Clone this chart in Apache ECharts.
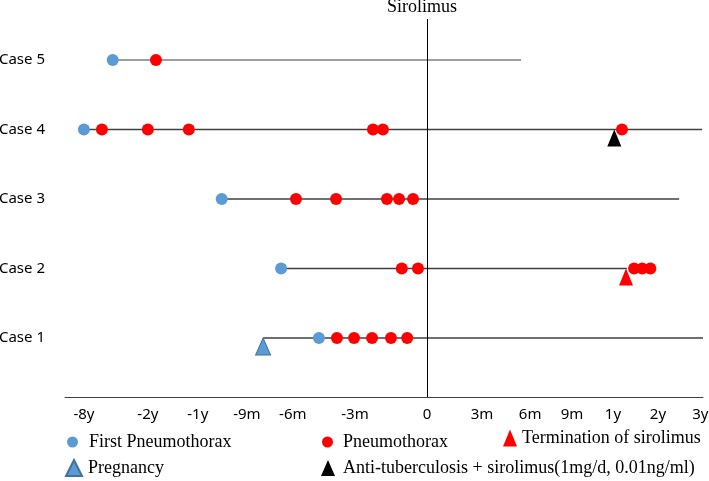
<!DOCTYPE html>
<html>
<head>
<meta charset="utf-8">
<script src="https://cdn.jsdelivr.net/npm/echarts@6/dist/echarts.min.js"></script>
<style>
html,body{margin:0;padding:0;background:#fff;}
#chart{width:709px;height:481px;}
</style>
</head>
<body>
<div id="chart"></div>
<script>
// Horizontal axis: non-linear timeline, in relative position units (0 = start of sirolimus)
const tickPositions = [-7.62, -6.2, -5.09, -4.0, -2.98, -1.6, 0, 1.22, 2.29, 3.22, 4.13, 5.13, 6.07];
const tickLabels = ['-8y', '-2y', '-1y', '-9m', '-6m', '-3m', '0', '3m', '6m', '9m', '1y', '2y', '3y'];

const cases = [1, 2, 3, 4, 5];
const caseLabels = ['Case 1', 'Case 2', 'Case 3', 'Case 4', 'Case 5'];

// Follow-up line start / end per case
const lineStart = [-3.64, -3.24, -4.56, -7.62, -6.98];
const lineEnd = [6.13, 4.44, 5.6, 6.11, 2.09];

// First pneumothorax per case
const firstPneumothorax = [-2.4, -3.24, -4.56, -7.62, -6.98];

// Subsequent pneumothorax events per case
const pneumothorax = [
  [-2.0, -1.62, -1.22, -0.8, -0.44],
  [-0.56, -0.2, 4.6, 4.78, 4.96],
  [-2.91, -2.02, -0.89, -0.62, -0.31],
  [-7.22, -6.2, -5.29, -1.2, -0.98, 4.33],
  [-6.02]
];

// Other events: [position, case]
const pregnancy = [[-3.64, 1]];
const terminationSirolimus = [[4.42, 2]];
const antiTB = [[4.16, 4]];

const names = {
  first: 'First Pneumothorax',
  pneu: 'Pneumothorax',
  term: 'Termination of sirolimus',
  preg: 'Pregnancy',
  anti: 'Anti-tuberculosis + sirolimus(1mg/d, 0.01ng/ml)'
};

const lineSeries = cases.map((c, i) => ({
  type: 'line',
  name: 'row' + c,
  data: [[lineStart[i], c], [lineEnd[i], c]],
  showSymbol: false,
  symbol: 'none',
  silent: true,
  z: 1,
  lineStyle: { color: c === 5 ? '#7f7f7f' : '#404040', width: 1.5 }
}));

lineSeries[0].markLine = {
  symbol: 'none',
  silent: true,
  label: { show: false },
  lineStyle: { color: '#000', width: 1, type: 'solid' },
  data: [{ xAxis: 0 }]
};

const blue = '#5b9bd5';
const red = '#ff0000';
const serif = "'Liberation Serif', 'Times New Roman', serif";

const series = lineSeries.concat([
  {
    type: 'scatter', name: names.first, z: 5,
    data: cases.map((c, i) => [firstPneumothorax[i], c]),
    symbol: 'circle', symbolSize: 12,
    itemStyle: { color: blue, opacity: 1 }
  },
  {
    type: 'scatter', name: names.pneu, z: 5,
    data: pneumothorax.flatMap((arr, i) => arr.map(x => [x, cases[i]])),
    symbol: 'circle', symbolSize: 12,
    itemStyle: { color: red, opacity: 1 }
  },
  {
    type: 'scatter', name: names.preg, z: 4,
    data: pregnancy,
    symbol: 'triangle', symbolSize: [15, 17], symbolOffset: [0, 8.5],
    itemStyle: { color: blue, borderColor: '#41719c', borderWidth: 1, opacity: 1 }
  },
  {
    type: 'scatter', name: names.term, z: 4,
    data: terminationSirolimus,
    symbol: 'triangle', symbolSize: [14, 17], symbolOffset: [0, 8.5],
    itemStyle: { color: red, opacity: 1 }
  },
  {
    type: 'scatter', name: names.anti, z: 4,
    data: antiTB,
    symbol: 'triangle', symbolSize: [14, 17], symbolOffset: [0, 8.5],
    itemStyle: { color: '#000', opacity: 1 }
  }
]);

function legendAt(name, icon, left, top, w, h, pad) {
  return {
    data: [{ name: name, icon: icon }],
    left: left, top: top,
    itemWidth: w, itemHeight: h,
    itemGap: 0, padding: 0,
    selectedMode: false,
    textStyle: { fontFamily: serif, fontSize: 18, color: '#000', padding: [0, 0, 0, pad] }
  };
}

const option = {
  backgroundColor: '#fff',
  animation: false,
  title: {
    text: 'Sirolimus',
    left: 387, top: -2, padding: 0,
    textStyle: { fontFamily: serif, fontSize: 18, fontWeight: 'normal', color: '#000' }
  },
  legend: [
    legendAt(names.first, 'circle', 67, 433, 11, 11, 6),
    legendAt(names.pneu, 'circle', 322, 433, 11, 11, 5),
    legendAt(names.term, 'triangle', 503, 429, 14, 17, 0),
    legendAt(names.preg, 'triangle', 65, 459, 16, 16, 1),
    legendAt(names.anti, 'triangle', 321, 459, 14, 16, 3)
  ],
  grid: { left: 65, right: 6, top: 19, bottom: 84, containLabel: false, outerBoundsMode: 'none' },
  xAxis: {
    type: 'value',
    min: -8.04, max: 6.13,
    splitLine: { show: false },
    axisTick: { show: false },
    axisLine: { show: true, onZero: false, lineStyle: { color: '#404040', width: 1 } },
    axisLabel: {
      customValues: tickPositions,
      formatter: v => tickLabels[tickPositions.indexOf(v)],
      fontFamily: "'Noto Sans', sans-serif",
      fontSize: 15, color: '#000', margin: 10
    }
  },
  yAxis: {
    type: 'value',
    min: 0.15, max: 5.59,
    splitLine: { show: false },
    axisTick: { show: false },
    axisLine: { show: false },
    axisLabel: {
      customValues: cases,
      formatter: v => caseLabels[cases.indexOf(v)],
      fontFamily: "'Noto Sans', sans-serif",
      fontSize: 15, color: '#000', margin: 20
    }
  },
  series: series
};

const chart = echarts.init(document.getElementById('chart'), null, { renderer: 'canvas' });
chart.setOption(option);
</script>
</body>
</html>
